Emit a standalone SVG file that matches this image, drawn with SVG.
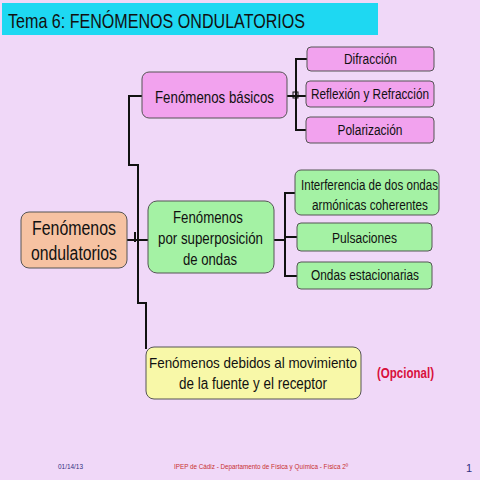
<svg xmlns="http://www.w3.org/2000/svg" width="480" height="480" viewBox="0 0 480 480">
<style>
text{font-family:"Liberation Sans",Arial,sans-serif;fill:#111;}
.box{stroke:#555;stroke-width:1;}
.pink{fill:#F2A2EE;}
.green{fill:#A4F2A4;}
.sal{fill:#F6C2A2;}
.yel{fill:#F8F8A8;}
.c{text-anchor:middle;}
.l{fill:none;stroke:#111;stroke-width:2;}
</style>
<rect x="0" y="0" width="480" height="480" fill="#F0D8F8"/>
<g id="title">
<rect x="2" y="3" width="376" height="32" fill="#1ED8F2"/>
<text x="8" y="28" font-size="21" textLength="297" lengthAdjust="spacingAndGlyphs">Tema 6: FENÓMENOS ONDULATORIOS</text>
</g>
<g id="connectors">
<path class="l" d="M142 96 H129 V165 H138 V303 H146 V349"/>
<path class="l" d="M127 240 H148"/>
<path class="l" d="M135 232 V242" stroke-width="1"/>
<path class="l" d="M287 96 H306"/>
<path class="l" d="M307 59 H296 V130 H306"/>
<rect x="293" y="92" width="5" height="6" fill="none" stroke="#111" stroke-width="1"/>
<path class="l" d="M274 240 H285"/>
<path class="l" d="M295 193 H285 V276 H297"/>
<path class="l" d="M285 237 H297"/>
</g>
<g id="root">
<rect class="box sal" x="21" y="212" width="106" height="56" rx="8"/>
<text class="c" x="74" y="235" font-size="20" textLength="84" lengthAdjust="spacingAndGlyphs">Fenómenos</text>
<text class="c" x="74" y="260" font-size="20" textLength="86" lengthAdjust="spacingAndGlyphs">ondulatorios</text>
</g>
<g id="basicos">
<rect class="box pink" x="142" y="72" width="145" height="46" rx="7"/>
<text class="c" x="214.5" y="103" font-size="17" textLength="119" lengthAdjust="spacingAndGlyphs">Fenómenos básicos</text>
</g>
<g id="difraccion">
<rect class="box pink" x="307" y="47" width="127" height="24" rx="4"/>
<text class="c" x="370.5" y="64" font-size="14" textLength="53" lengthAdjust="spacingAndGlyphs">Difracción</text>
</g>
<g id="reflexion">
<rect class="box pink" x="306" y="81" width="128" height="26" rx="4"/>
<text class="c" x="370" y="99" font-size="14" textLength="118" lengthAdjust="spacingAndGlyphs">Reflexión y Refracción</text>
</g>
<g id="polarizacion">
<rect class="box pink" x="306" y="117" width="128" height="26" rx="4"/>
<text class="c" x="370" y="135" font-size="14" textLength="65" lengthAdjust="spacingAndGlyphs">Polarización</text>
</g>
<g id="superposicion">
<rect class="box green" x="148" y="201" width="126" height="72" rx="9"/>
<text class="c" x="208" y="223" font-size="16" textLength="70" lengthAdjust="spacingAndGlyphs">Fenómenos</text>
<text class="c" x="210.5" y="244" font-size="16" textLength="105" lengthAdjust="spacingAndGlyphs">por superposición</text>
<text class="c" x="210" y="265" font-size="16" textLength="54" lengthAdjust="spacingAndGlyphs">de ondas</text>
</g>
<g id="interferencia">
<rect class="box green" x="295" y="170" width="144" height="45" rx="6"/>
<text class="c" x="369.5" y="190" font-size="14" textLength="137" lengthAdjust="spacingAndGlyphs">Interferencia de dos ondas</text>
<text class="c" x="370" y="210" font-size="14" textLength="116" lengthAdjust="spacingAndGlyphs">armónicas coherentes</text>
</g>
<g id="pulsaciones">
<rect class="box green" x="297" y="223" width="135" height="28" rx="4"/>
<text class="c" x="364.5" y="243" font-size="14" textLength="65" lengthAdjust="spacingAndGlyphs">Pulsaciones</text>
</g>
<g id="estacionarias">
<rect class="box green" x="297" y="262" width="135" height="27" rx="4"/>
<text class="c" x="365" y="280" font-size="14" textLength="108" lengthAdjust="spacingAndGlyphs">Ondas estacionarias</text>
</g>
<g id="movimiento">
<rect class="box yel" x="146" y="347" width="215" height="52" rx="8"/>
<text class="c" x="253" y="368" font-size="15" textLength="208" lengthAdjust="spacingAndGlyphs">Fenómenos debidos al movimiento</text>
<text class="c" x="253" y="389" font-size="16" textLength="148" lengthAdjust="spacingAndGlyphs">de la fuente y el receptor</text>
</g>
<text x="377" y="378" font-size="14" font-weight="bold" style="fill:#D8103C" textLength="57" lengthAdjust="spacingAndGlyphs">(Opcional)</text>
<g id="footer">
<text x="58" y="469" font-size="8" style="fill:#303080" textLength="25" lengthAdjust="spacingAndGlyphs">01/14/13</text>
<text x="174" y="469" font-size="8" style="fill:#C83030" textLength="174" lengthAdjust="spacingAndGlyphs">IPEP de Cádiz  -  Departamento de Física y Química  -  Física 2º</text>
<text x="466" y="472" font-size="11" style="fill:#303080">1</text>
</g>
</svg>
